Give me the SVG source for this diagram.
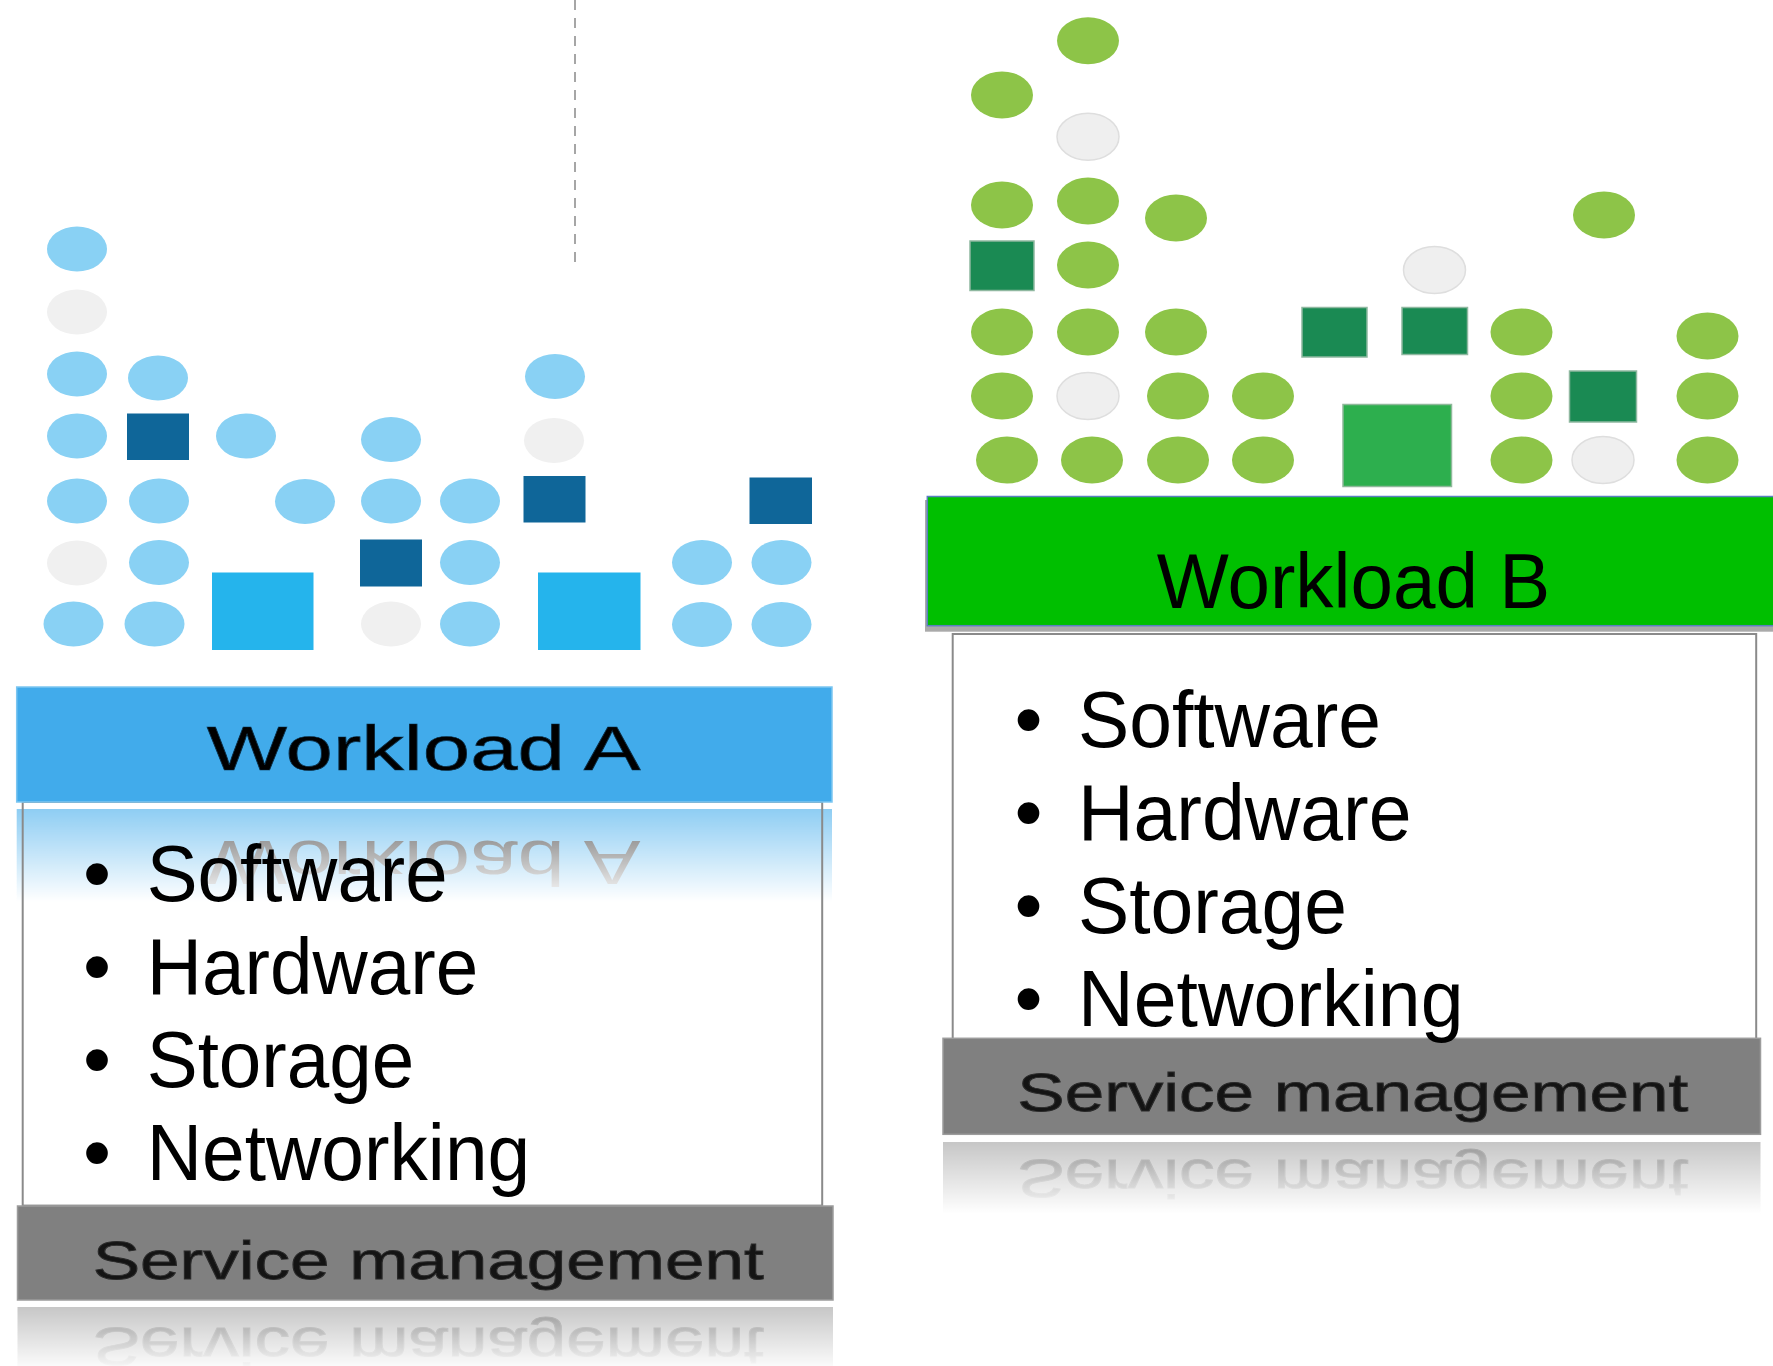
<svg xmlns="http://www.w3.org/2000/svg" width="1773" height="1366" viewBox="0 0 1773 1366">
<style>
  .t { font-family: "Liberation Sans", Arial, sans-serif; }
  .item { font-size: 80px; fill: #000; }
  .bul { font-size: 80px; fill: #000; text-anchor: middle; }
  .sm { font-size: 54px; fill: #141414; stroke: #2a2a2a; stroke-width: 0.9; }
  .eb { fill: #89d1f4; }
  .eg { fill: #f0f0f0; }
  .sd { fill: #0f6699; }
  .sb { fill: #25b4ec; }
  .gl { fill: #8dc448; }
  .gg { fill: #efefef; stroke: #dedede; stroke-width: 1.5; }
  .gd { fill: #1a8a53; stroke: #8fb8a0; stroke-width: 1.5; }
  .gb { fill: #2daf4e; stroke: #8fb89a; stroke-width: 1.5; }
  .box { fill: none; stroke: #8a8a8a; stroke-width: 2; }
  .svc { fill: #808080; }
</style>
<defs>
  <linearGradient id="fadeA" x1="0" y1="808" x2="0" y2="902" gradientUnits="userSpaceOnUse">
    <stop offset="0" stop-color="#fff" stop-opacity="0.6"/>
    <stop offset="1" stop-color="#fff" stop-opacity="0"/>
  </linearGradient>
  <mask id="mA" maskUnits="userSpaceOnUse" x="0" y="808" width="850" height="100">
    <rect x="0" y="808" width="850" height="100" fill="url(#fadeA)"/>
  </mask>
  <linearGradient id="fadeSA" x1="0" y1="1306" x2="0" y2="1372" gradientUnits="userSpaceOnUse">
    <stop offset="0" stop-color="#fff" stop-opacity="0.45"/>
    <stop offset="1" stop-color="#fff" stop-opacity="0"/>
  </linearGradient>
  <mask id="mSA" maskUnits="userSpaceOnUse" x="0" y="1306" width="850" height="70">
    <rect x="0" y="1306" width="850" height="70" fill="url(#fadeSA)"/>
  </mask>
  <linearGradient id="fadeSB" x1="0" y1="1141.5" x2="0" y2="1214" gradientUnits="userSpaceOnUse">
    <stop offset="0" stop-color="#fff" stop-opacity="0.45"/>
    <stop offset="1" stop-color="#fff" stop-opacity="0"/>
  </linearGradient>
  <mask id="mSB" maskUnits="userSpaceOnUse" x="900" y="1141.5" width="873" height="80">
    <rect x="900" y="1141.5" width="873" height="80" fill="url(#fadeSB)"/>
  </mask>
</defs>
<rect width="1773" height="1366" fill="#fff"/>

<g id="divider">
  <line x1="575" y1="0" x2="575" y2="270" stroke="#a6a6a6" stroke-width="2" stroke-dasharray="10 8"/>
</g>

<g id="workload-a-blocks">
  <ellipse class="eb" cx="77" cy="249" rx="30" ry="22.5"/>
  <ellipse class="eg" cx="77" cy="312" rx="30" ry="22.5"/>
  <ellipse class="eb" cx="77" cy="374" rx="30" ry="22.5"/>
  <ellipse class="eb" cx="77" cy="436" rx="30" ry="22.5"/>
  <ellipse class="eb" cx="77" cy="501" rx="30" ry="22.5"/>
  <ellipse class="eg" cx="77" cy="563" rx="30" ry="22.5"/>
  <ellipse class="eb" cx="73.5" cy="624" rx="30" ry="22.5"/>

  <ellipse class="eb" cx="158" cy="378" rx="30" ry="22.5"/>
  <rect class="sd" x="127" y="413.5" width="62" height="46.5"/>
  <ellipse class="eb" cx="159" cy="501" rx="30" ry="22.5"/>
  <ellipse class="eb" cx="159" cy="562.5" rx="30" ry="22.5"/>
  <ellipse class="eb" cx="154.5" cy="624" rx="30" ry="22.5"/>

  <ellipse class="eb" cx="246" cy="436" rx="30" ry="22.5"/>
  <rect class="sb" x="212" y="572.5" width="101.5" height="77.5"/>

  <ellipse class="eb" cx="305" cy="501.5" rx="30" ry="22.5"/>

  <ellipse class="eb" cx="391" cy="439.5" rx="30" ry="22.5"/>
  <ellipse class="eb" cx="391" cy="501" rx="30" ry="22.5"/>
  <rect class="sd" x="360" y="539.5" width="62" height="47"/>
  <ellipse class="eg" cx="391" cy="624" rx="30" ry="22.5"/>

  <ellipse class="eb" cx="470" cy="501" rx="30" ry="22.5"/>
  <ellipse class="eb" cx="470" cy="562.5" rx="30" ry="22.5"/>
  <ellipse class="eb" cx="470" cy="624" rx="30" ry="22.5"/>

  <ellipse class="eb" cx="555" cy="376.5" rx="30" ry="22.5"/>
  <ellipse class="eg" cx="554" cy="440.5" rx="30" ry="22.5"/>
  <rect class="sd" x="523.5" y="476" width="62" height="46.5"/>
  <rect class="sb" x="538" y="572.5" width="102.5" height="77.5"/>

  <ellipse class="eb" cx="702" cy="562.5" rx="30" ry="22.5"/>
  <ellipse class="eb" cx="702" cy="624.5" rx="30" ry="22.5"/>

  <rect class="sd" x="749.5" y="477.5" width="62.5" height="46.5"/>
  <ellipse class="eb" cx="781.5" cy="562.5" rx="30" ry="22.5"/>
  <ellipse class="eb" cx="781.5" cy="624.5" rx="30" ry="22.5"/>
</g>

<g id="workload-b-blocks">
  <ellipse class="gl" cx="1002" cy="95" rx="31" ry="23.5"/>
  <ellipse class="gl" cx="1002" cy="205" rx="31" ry="23.5"/>
  <rect class="gd" x="970" y="241" width="64" height="49.5"/>
  <ellipse class="gl" cx="1002" cy="332" rx="31" ry="23.5"/>
  <ellipse class="gl" cx="1002" cy="396" rx="31" ry="23.5"/>
  <ellipse class="gl" cx="1007" cy="460" rx="31" ry="23.5"/>

  <ellipse class="gl" cx="1088" cy="40.7" rx="31" ry="23.5"/>
  <ellipse class="gg" cx="1088" cy="136.7" rx="31" ry="23.5"/>
  <ellipse class="gl" cx="1088" cy="201" rx="31" ry="23.5"/>
  <ellipse class="gl" cx="1088" cy="265" rx="31" ry="23.5"/>
  <ellipse class="gl" cx="1088" cy="332" rx="31" ry="23.5"/>
  <ellipse class="gg" cx="1088" cy="396" rx="31" ry="23.5"/>
  <ellipse class="gl" cx="1092" cy="460" rx="31" ry="23.5"/>

  <ellipse class="gl" cx="1176" cy="218" rx="31" ry="23.5"/>
  <ellipse class="gl" cx="1176" cy="332" rx="31" ry="23.5"/>
  <ellipse class="gl" cx="1178" cy="396" rx="31" ry="23.5"/>
  <ellipse class="gl" cx="1178" cy="460" rx="31" ry="23.5"/>

  <ellipse class="gl" cx="1263" cy="396" rx="31" ry="23.5"/>
  <ellipse class="gl" cx="1263" cy="460" rx="31" ry="23.5"/>

  <rect class="gd" x="1302" y="307.5" width="65" height="49.5"/>
  <ellipse class="gg" cx="1434.5" cy="270" rx="31" ry="23.5"/>
  <rect class="gd" x="1402" y="307.5" width="65.5" height="47"/>
  <rect class="gb" x="1343" y="404.5" width="108.5" height="82"/>

  <ellipse class="gl" cx="1521.5" cy="332" rx="31" ry="23.5"/>
  <ellipse class="gl" cx="1521.5" cy="396" rx="31" ry="23.5"/>
  <ellipse class="gl" cx="1521.5" cy="460" rx="31" ry="23.5"/>

  <ellipse class="gl" cx="1604" cy="215" rx="31" ry="23.5"/>
  <rect class="gd" x="1569.5" y="371" width="67" height="51"/>
  <ellipse class="gg" cx="1603" cy="460" rx="31" ry="23.5"/>

  <ellipse class="gl" cx="1707.5" cy="336" rx="31" ry="23.5"/>
  <ellipse class="gl" cx="1707.5" cy="396" rx="31" ry="23.5"/>
  <ellipse class="gl" cx="1707.5" cy="460" rx="31" ry="23.5"/>
</g>

<g id="workload-a">
  <rect x="22.7" y="802" width="799.5" height="403.6" fill="#fff"/>
  <g mask="url(#mA)">
    <g transform="matrix(1,0,0,-1,0,1611)">
      <rect x="16.7" y="687" width="815.3" height="115" fill="#41abeb"/>
      <text class="t" x="206.7" y="770" font-size="63" textLength="434" lengthAdjust="spacingAndGlyphs" fill="#000">Workload A</text>
    </g>
  </g>
  <rect class="box" x="22.7" y="802" width="799.5" height="403.6"/>
  <rect x="16.7" y="687" width="815.3" height="115" fill="#41abeb" stroke="#7cc6f1" stroke-width="1.5"/>
  <text class="t" x="206.7" y="770" font-size="63" textLength="434" lengthAdjust="spacingAndGlyphs" fill="#000" stroke="#0a2a40" stroke-width="0.7">Workload A</text>
  <text class="t bul" x="97" y="901">•</text>
  <text class="t item" x="146.7" y="901" textLength="301" lengthAdjust="spacingAndGlyphs">Software</text>
  <text class="t bul" x="97" y="994">•</text>
  <text class="t item" x="146.7" y="994" textLength="331.5" lengthAdjust="spacingAndGlyphs">Hardware</text>
  <text class="t bul" x="97" y="1087">•</text>
  <text class="t item" x="146.7" y="1087" textLength="267.5" lengthAdjust="spacingAndGlyphs">Storage</text>
  <text class="t bul" x="97" y="1179.5">•</text>
  <text class="t item" x="146.7" y="1179.5" textLength="383.5" lengthAdjust="spacingAndGlyphs">Networking</text>
</g>

<g id="service-a">
  <rect class="svc" x="17.5" y="1206" width="815.5" height="94" stroke="#9c9c9c" stroke-width="1.5"/>
  <text class="t sm" x="92.7" y="1279.3" textLength="671" lengthAdjust="spacingAndGlyphs">Service management</text>
  <g mask="url(#mSA)">
    <g transform="matrix(1,0,0,-1,0,2607)">
      <rect class="svc" x="17.5" y="1206" width="815.5" height="94"/>
      <text class="t sm" x="92.7" y="1279.3" textLength="671" lengthAdjust="spacingAndGlyphs">Service management</text>
    </g>
  </g>
</g>

<g id="workload-b">
  <rect x="925" y="500" width="848" height="131.7" fill="#aaaaaa"/>
  <rect x="927.3" y="496.5" width="850" height="129.2" fill="#00bf00" stroke="#5a7fbf" stroke-width="1.5"/>
  <text class="t" x="1156.7" y="607.7" font-size="77" textLength="393.5" lengthAdjust="spacingAndGlyphs" fill="#000">Workload B</text>
  <rect x="952.7" y="634" width="803.5" height="406" fill="#fff" stroke="#8a8a8a" stroke-width="2"/>
</g>

<g id="service-b">
  <rect class="svc" x="943" y="1038.3" width="817.5" height="96" stroke="#9c9c9c" stroke-width="1.5"/>
  <text class="t sm" x="1017.3" y="1110.7" textLength="671" lengthAdjust="spacingAndGlyphs">Service management</text>
  <g mask="url(#mSB)">
    <g transform="matrix(1,0,0,-1,0,2271)">
      <rect class="svc" x="943" y="1038.3" width="817.5" height="96"/>
      <text class="t sm" x="1017.3" y="1110.7" textLength="671" lengthAdjust="spacingAndGlyphs">Service management</text>
    </g>
  </g>
</g>

<g id="workload-b-list">
  <text class="t bul" x="1028.5" y="747">•</text>
  <text class="t item" x="1078" y="747" textLength="303" lengthAdjust="spacingAndGlyphs">Software</text>
  <text class="t bul" x="1028.5" y="840">•</text>
  <text class="t item" x="1078" y="840" textLength="333.5" lengthAdjust="spacingAndGlyphs">Hardware</text>
  <text class="t bul" x="1028.5" y="933">•</text>
  <text class="t item" x="1078" y="933" textLength="269" lengthAdjust="spacingAndGlyphs">Storage</text>
  <text class="t bul" x="1028.5" y="1026">•</text>
  <text class="t item" x="1078" y="1026" textLength="385.5" lengthAdjust="spacingAndGlyphs">Networking</text>
</g>
</svg>
